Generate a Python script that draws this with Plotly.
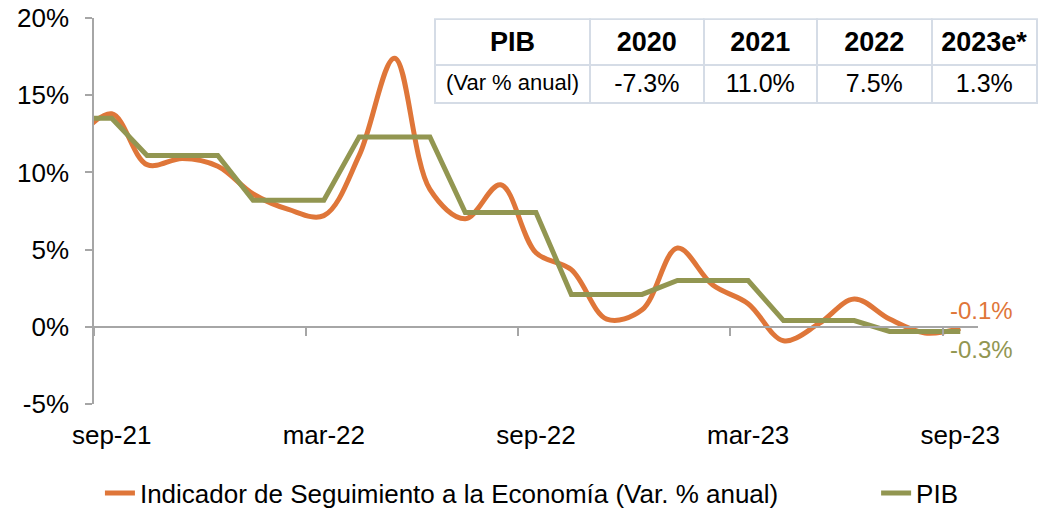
import plotly.graph_objects as go

months = ["ago-21", "sep-21", "oct-21", "nov-21", "dic-21", "ene-22", "feb-22", "mar-22",
          "abr-22", "may-22", "jun-22", "jul-22", "ago-22", "sep-22", "oct-22", "nov-22",
          "dic-22", "ene-23", "feb-23", "mar-23", "abr-23", "may-23", "jun-23", "jul-23",
          "ago-23", "sep-23"]
ise = [12.1, 13.8, 10.5, 10.9, 10.4, 8.6, 7.6, 7.2, 11.1, 17.4, 8.9, 7.0, 9.2, 4.8,
       3.7, 0.5, 1.1, 5.1, 2.7, 1.5, -0.9, 0.2, 1.8, 0.5, -0.4, -0.1]
pib = [13.5, 13.5, 11.1, 11.1, 11.1, 8.2, 8.2, 8.2, 12.3, 12.3, 12.3, 7.4, 7.4, 7.4,
       2.1, 2.1, 2.1, 3.0, 3.0, 3.0, 0.4, 0.4, 0.4, -0.3, -0.3, -0.3]
tick_labels = ["sep-21", "mar-22", "sep-22", "mar-23", "sep-23"]
y_ticks = [-5, 0, 5, 10, 15, 20]
y_tick_labels = ["-5%", "0%", "5%", "10%", "15%", "20%"]

table_header = ["PIB", "2020", "2021", "2022", "2023e*"]
table_row = ["(Var % anual)", "-7.3%", "11.0%", "7.5%", "1.3%"]

ORANGE = "#DF7639"
GREEN = "#929651"
AXIS = "#A6A6A6"
FONT = "Liberation Sans, Arial, sans-serif"

idx = list(range(len(months)))
tick_idx = [months.index(m) for m in tick_labels]
bound_idx = [i - 0.5 for i in tick_idx]
xr = [idx[1] - 0.5, idx[-1] + 0.5]

fig = go.Figure()
fig.add_trace(go.Scatter(x=idx, y=ise, mode="lines", line=dict(color=ORANGE, width=5, shape="spline", smoothing=1.0),
                         name="Indicador de Seguimiento a la Economía (Var. % anual)", hoverinfo="skip",
                         legend="legend"))
fig.add_trace(go.Scatter(x=idx, y=pib, mode="lines", line=dict(color=GREEN, width=5),
                         name="PIB", hoverinfo="skip", legend="legend2"))
fig.add_trace(go.Scatter(x=[], y=[], xaxis="x2", showlegend=False))

fig.add_trace(go.Table(
    columnwidth=[153, 112, 112, 113, 104],
    header=dict(values=["<b>%s</b>" % h for h in table_header], height=39,
                font=dict(family=FONT, size=27, color="black"), align="center",
                fill_color="white", line=dict(color="#D5DCE6", width=2)),
    cells=dict(values=[[v.replace(" ", "\u00a0")] for v in table_row], height=38,
               font=dict(family=FONT, size=[22, 25, 25, 25, 25], color="black"), align="center",
               fill_color="white", line=dict(color="#D5DCE6", width=2)),
    domain=dict(x=[0.3616, 1.0], y=[0.70, 0.997]),
))

fig.add_annotation(x=idx[-1], y=ise[-1], text="-0.1%", showarrow=False, xanchor="left", yanchor="middle",
                   xshift=-12, yshift=18, font=dict(family=FONT, size=24, color=ORANGE))
fig.add_annotation(x=idx[-1], y=pib[-1], text="-0.3%", showarrow=False, xanchor="left", yanchor="middle",
                   xshift=-12, yshift=-18, font=dict(family=FONT, size=24, color=GREEN))

legend_common = dict(orientation="h", xref="container", yref="container", y=0.0333,
                     xanchor="left", yanchor="middle", font=dict(family=FONT, size=26),
                     itemwidth=30, bgcolor="rgba(0,0,0,0)")

fig.update_layout(
    width=1041, height=510,
    margin=dict(l=94, r=4, t=18, b=106, autoexpand=False),
    paper_bgcolor="white", plot_bgcolor="white",
    font=dict(family=FONT, size=26, color="black"),
    xaxis=dict(domain=[0, 0.9374], range=xr, tickvals=tick_idx, ticktext=tick_labels,
               showgrid=False, zeroline=False, showline=False, ticks="", automargin=False,
               ticklabelstandoff=13, tickfont=dict(size=26)),
    xaxis2=dict(domain=[0, 0.9374], range=xr, overlaying="x", anchor="free", position=0.2,
                tickvals=bound_idx, showticklabels=False, ticks="outside", ticklen=8,
                tickcolor=AXIS, tickwidth=1.5, showline=True, linecolor=AXIS, linewidth=1.5,
                showgrid=False, zeroline=False, automargin=False),
    yaxis=dict(range=[-5, 20], tickvals=y_ticks, ticktext=y_tick_labels, showgrid=False, zeroline=False,
               showline=True, linecolor=AXIS, linewidth=1.5, ticks="outside", ticklen=7,
               tickcolor=AXIS, tickwidth=1.5, ticklabelstandoff=11, tickfont=dict(size=26),
               automargin=False),
    legend=dict(x=0.096, **legend_common),
    legend2=dict(x=0.8416, **legend_common),
    showlegend=True,
)

fig.write_html("out.html", config={"displayModeBar": False},
               post_script="document.body.style.margin='0';document.body.style.overflow='hidden';")
